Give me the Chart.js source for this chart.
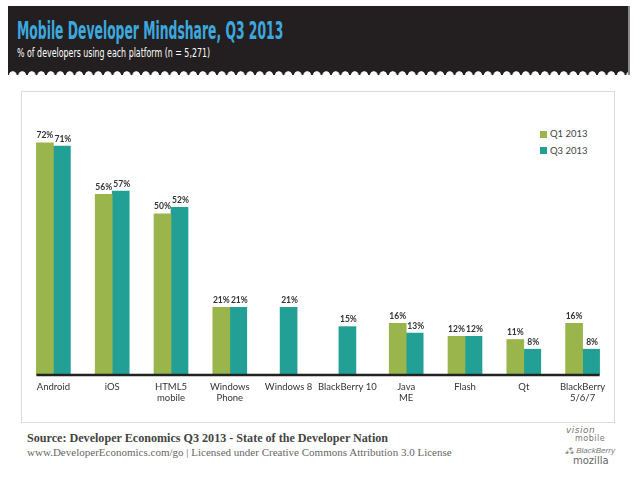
<!DOCTYPE html>
<html>
<head>
<meta charset="utf-8">
<script src="https://cdn.jsdelivr.net/npm/chart.js@4/dist/chart.umd.min.js"></script>
<style>
  html, body { margin: 0; padding: 0; background: #fff; }
  body { width: 640px; height: 485px; position: relative; overflow: hidden; font-family: Lato, sans-serif; }
  #header { position: absolute; left: 8px; top: 6px; width: 622px; height: 69px; background: #231f20; border-right: 2px solid #8a8a8a; box-sizing: border-box; }
  #scallops { position: absolute; left: 0; bottom: 0; width: 100%; height: 5px;
    background: radial-gradient(circle at 50% 100%, #fff 3.4px, rgba(255,255,255,0) 4px) repeat-x;
    background-size: 9.5px 5px; }
  .fit { position: absolute; white-space: nowrap; transform-origin: 0 0; display: inline-block; }
  #title { left: 9px; top: 10px; color: #3ca8de; font: bold 25px "Liberation Sans Narrow", "DejaVu Sans Condensed", sans-serif; }
  #subtitle { left: 9px; top: 39px; color: #fff; font: 13px "Liberation Sans Narrow", "DejaVu Sans Condensed", sans-serif; }
  #panel { position: absolute; left: 21px; top: 91px; width: 594px; height: 332px; border: 1px solid #dcdcdc; box-sizing: border-box; }
  #legend { position: absolute; left: 540px; top: 127px; font: 9.5px Lato, sans-serif; color: #444; }
  #legend div { height: 16.5px; line-height: 14px; }
  #legend span { display: inline-block; width: 7px; height: 7px; margin-right: 3px; vertical-align: -0.5px; }
  #source { left: 27px; top: 432px; color: #444; font: bold 11.5px "Liberation Serif", serif; }
  #license { left: 27px; top: 447px; color: #666; font: 10.5px "Liberation Serif", serif; }
  .logo { position: absolute; color: #777; white-space: nowrap; }
  canvas { position: absolute; left: 0; top: 0; }
</style>
</head>
<body>
<div id="header">
  <div id="title" class="fit" data-w="266">Mobile Developer Mindshare, Q3 2013</div>
  <div id="subtitle" class="fit" data-w="193">% of developers using each platform (n = 5,271)</div>
  <div id="scallops"></div>
</div>
<div id="panel"></div>
<div id="legend"></div>
<div id="source" class="fit" data-w="361">Source: Developer Economics Q3 2013 - State of the Developer Nation</div>
<div id="license" class="fit" data-w="425">www.DeveloperEconomics.com/go | Licensed under Creative Commons Attribution 3.0 License</div>
<div class="logo" style="left:566px;top:425px;font:italic 9px 'DejaVu Sans';letter-spacing:0.5px;">vision</div>
<div class="logo" style="left:575px;top:434px;font:8px 'DejaVu Sans';letter-spacing:0.5px;">mobile</div>
<div class="logo" style="left:565px;top:444px;font:italic 8px 'Liberation Sans';">⁂ BlackBerry</div>
<div class="logo" style="left:573px;top:455px;font:10px 'DejaVu Sans';color:#666;">mozilla</div>
<canvas id="chart" width="640" height="485"></canvas>
<script>
// Données
const categories = ['Android', 'iOS', ['HTML5', 'mobile'], ['Windows', 'Phone'], 'Windows 8',
    'BlackBerry 10', ['Java', 'ME'], 'Flash', 'Qt', ['BlackBerry', '5/6/7']];
const seriesNames = ['Q1 2013', 'Q3 2013'];
const q1Values = [72, 56, 50, 21, null, null, 16, 12, 11, 16];
const q3Values = [71, 57, 52, 21, 21, 15, 13, 12, 8, 8];
const seriesColors = ['#9ab54b', '#22a096'];

// Ajuster la largeur des textes condensés
document.querySelectorAll('.fit').forEach(el => {
    const target = parseFloat(el.dataset.w);
    el.style.transform = 'scaleX(' + (target / el.offsetWidth) + ')';
});

// Légende
const legendDiv = document.getElementById('legend');
seriesNames.forEach((name, i) => {
    const row = document.createElement('div');
    const box = document.createElement('span');
    box.style.background = seriesColors[i];
    row.appendChild(box);
    row.appendChild(document.createTextNode(name));
    legendDiv.appendChild(row);
});

// Étiquettes de valeur au-dessus des barres + ligne de base
const barExtras = {
    id: 'barExtras',
    afterDatasetsDraw(chart) {
        const ctx = chart.ctx;
        ctx.save();
        ctx.font = 'bold 8.5px Lato';
        ctx.fillStyle = '#333';
        ctx.textAlign = 'center';
        ctx.textBaseline = 'bottom';
        chart.data.datasets.forEach((ds, di) => {
            chart.getDatasetMeta(di).data.forEach((bar, i) => {
                if (ds.data[i] == null) return;
                ctx.fillText(ds.data[i] + '%', bar.x + (di === 1 ? 1 : 0), bar.y - 3);
            });
        });
        const first = chart.getDatasetMeta(0).data[0];
        const lastMeta = chart.getDatasetMeta(1).data;
        const last = lastMeta[lastMeta.length - 1];
        const y = chart.scales.y.getPixelForValue(0);
        ctx.strokeStyle = '#222';
        ctx.lineWidth = 2.5;
        ctx.beginPath();
        ctx.moveTo(first.x - first.width / 2, y);
        ctx.lineTo(last.x + last.width / 2, y);
        ctx.stroke();
        ctx.restore();
    }
};

new Chart(document.getElementById('chart').getContext('2d'), {
    type: 'bar',
    data: {
        labels: categories,
        datasets: [{
            label: seriesNames[0],
            data: q1Values,
            backgroundColor: seriesColors[0]
        }, {
            label: seriesNames[1],
            data: q3Values,
            backgroundColor: seriesColors[1]
        }]
    },
    options: {
        responsive: false,
        animation: false,
        skipNull: true,
        barThickness: 17,
        layout: { padding: { left: 24, right: 28, top: 117, bottom: 0 } },
        plugins: {
            legend: { display: false },
            tooltip: { enabled: false }
        },
        scales: {
            x: {
                grid: { display: false, drawTicks: false },
                border: { display: false },
                ticks: {
                    color: '#333',
                    font: { family: 'Lato', size: 9.5 },
                    padding: 6,
                    maxRotation: 0,
                    autoSkip: false
                },
                afterFit: scale => { scale.height = 110; }
            },
            y: {
                display: false,
                min: 0,
                max: 80
            }
        }
    },
    plugins: [barExtras]
});
</script>
</body>
</html>
